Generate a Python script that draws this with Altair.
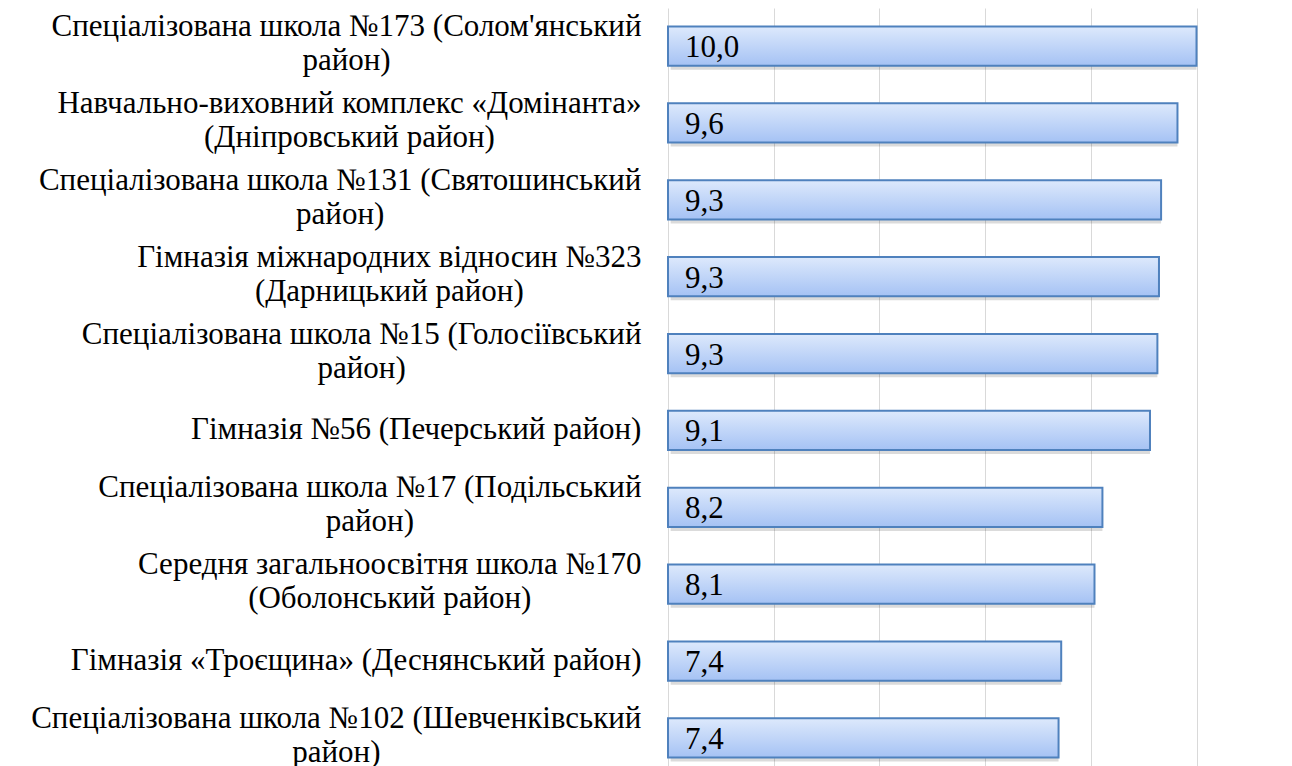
import glob
import json
import altair as alt
import pandas as pd

# ---- data ----
schools = [
    "Спеціалізована школа №173 (Солом'янський\nрайон)",
    "Навчально-виховний комплекс «Домінанта»\n(Дніпровський район)",
    "Спеціалізована школа №131 (Святошинський\nрайон)",
    "Гімназія міжнародних відносин №323\n(Дарницький район)",
    "Спеціалізована школа №15 (Голосіївський\nрайон)",
    "Гімназія №56 (Печерський район)",
    "Спеціалізована школа №17 (Подільський\nрайон)",
    "Середня загальноосвітня школа №170\n(Оболонський район)",
    "Гімназія «Троєщина» (Деснянський район)",
    "Спеціалізована школа №102 (Шевченківський\nрайон)",
]
scores = [10.0, 9.64, 9.33, 9.29, 9.26, 9.12, 8.22, 8.07, 7.44, 7.39]
grid_values = [0, 2, 4, 6, 8, 10]

FONT = "Liberation Serif"
FS = 31
VFS = 31
GAP = 27
LH = 34

df = pd.DataFrame({"school": schools, "score": scores})


def measure(text, size):
    try:
        from PIL import ImageFont
        paths = glob.glob("/usr/share/fonts/**/LiberationSerif-Regular.ttf", recursive=True)
        f = ImageFont.truetype(paths[0], int(round(size)))
        return f.getlength(text) * size / int(round(size))
    except Exception:
        return None


widths = []
ok = True
for s in schools:
    w = [measure(line, FS) for line in s.split("\n")]
    if any(v is None for v in w):
        ok = False
        break
    widths.append(max(w))

if ok:
    conds = [
        {"test": "datum.value == " + json.dumps(s), "value": GAP + w / 2.0}
        for s, w in zip(schools, widths)
    ]
    label_align = "center"
    label_padding = {"condition": conds, "value": GAP}
    left_pad = max(0, int(round(659.5 - GAP - max(widths))))
else:
    label_align = "right"
    label_padding = GAP
    left_pad = 21

label_offset = {
    "condition": {"test": "indexof(datum.value, '\\n') >= 0", "value": -LH / 2 - 2},
    "value": 0,
}

grad = alt.Gradient(
    gradient="linear",
    x1=0, x2=0, y1=0, y2=1,
    stops=[alt.GradientStop(color="#dde9fc", offset=0),
           alt.GradientStop(color="#a5c2f4", offset=1)],
)

yscale = alt.Scale(paddingInner=0.49, paddingOuter=0.24)
xscale = alt.Scale(domain=[0, 10], nice=False)

y_axis = alt.Axis(
    domain=False, ticks=False, tickSize=0, grid=False,
    labelFont=FONT, labelFontSize=FS, labelColor="#000000",
    labelLineHeight=LH, labelLimit=0,
    labelAlign=label_align, labelPadding=label_padding,
    labelOffset=label_offset,
    labelExpr="split(datum.label, '\\n')",
)
x_axis = alt.Axis(
    values=grid_values, grid=True, gridColor="#d9d9d9", gridWidth=1,
    labels=False, ticks=False, domain=False,
)

base = alt.Chart(df)

shadow = base.mark_rule(color="#000000", opacity=0.14, strokeWidth=8).encode(
    x=alt.X("score:Q", scale=xscale, axis=x_axis, title=None),
    x2=alt.datum(0.05),
    y=alt.Y("school:N", sort=schools, bandPosition=1, scale=yscale,
            axis=y_axis, title=None),
)

bars = base.mark_bar(color=grad, stroke="#4f81bd", strokeWidth=2).encode(
    x=alt.X("score:Q", scale=xscale, axis=x_axis, title=None),
    y=alt.Y("school:N", sort=schools, scale=yscale, axis=y_axis, title=None),
)

labels = base.transform_calculate(
    lab="replace(format(datum.score, '.1f'), '.', ',')"
).mark_text(align="left", baseline="middle", dx=17, dy=2,
            font=FONT, fontSize=VFS, color="#000000").encode(
    x=alt.datum(0),
    y=alt.Y("school:N", sort=schools, scale=yscale, axis=y_axis, title=None),
    text="lab:N",
)

chart = alt.layer(shadow, bars, labels).properties(
    width=528.5, height=768,
    padding={"left": left_pad, "top": 0, "right": 0, "bottom": 0},
).configure(font=FONT).configure_axis(labelFont=FONT).configure_view(stroke=None)

chart.save("out.html", embed_options={"renderer": "svg", "actions": False})
